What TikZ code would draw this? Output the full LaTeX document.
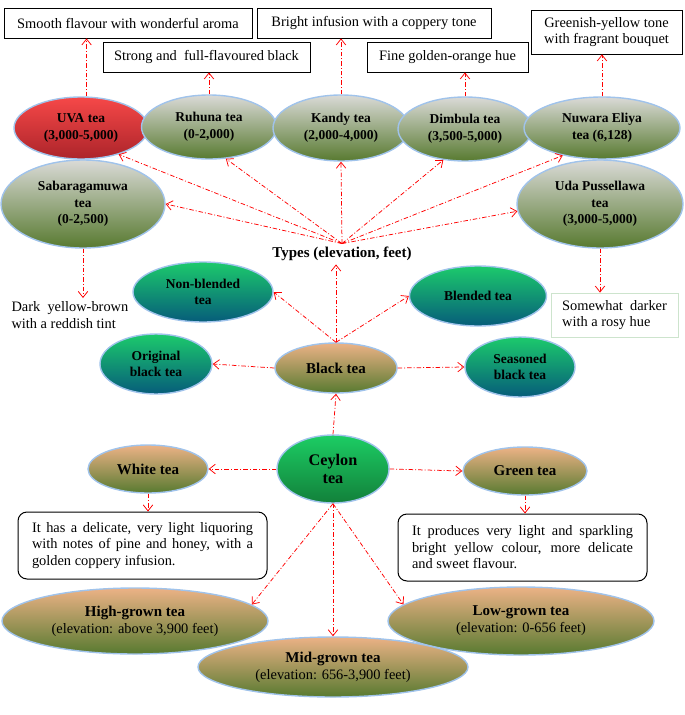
\documentclass[tikz,border=0pt]{standalone}
\usepackage{fontspec}
\setmainfont{Liberation Serif}
\usepackage{xcolor}
\usepackage{tikz}
\usetikzlibrary{arrows.meta, shapes.geometric}
\definecolor{ellborder}{RGB}{160,195,235}
\definecolor{greytop}{RGB}{218,218,215}
\definecolor{olivebot}{RGB}{88,122,48}
\definecolor{peachtop}{RGB}{236,178,134}
\definecolor{tealtop}{RGB}{28,202,108}
\definecolor{tealbot}{RGB}{6,92,122}
\definecolor{ceylontop}{RGB}{28,205,100}
\definecolor{ceylonbot}{RGB}{18,128,58}
\definecolor{uvatop}{RGB}{246,72,72}
\definecolor{uvabot}{RGB}{172,36,42}
\definecolor{rosyborder}{RGB}{205,228,205}
\newcommand{\fullline}[1]{\makebox[221pt][s]{#1}}

\begin{document}
\begin{tikzpicture}[
    x=1pt, y=-1pt,
    every node/.style={align=center},
    arrow/.style={draw=red, line width=0.75pt, dash pattern=on 4.5pt off 2pt on 1pt off 2pt, -{Straight Barb[length=6pt,width=9.5pt]}},
    regionell/.style={ellipse, draw=ellborder, line width=1.4pt, inner sep=0pt, top color=greytop, bottom color=olivebot, font=\fontsize{13.5}{16.5}\selectfont\bfseries},
    uvaell/.style={regionell, top color=uvatop, bottom color=uvabot},
    kindell/.style={regionell, top color=tealtop, bottom color=tealbot},
    teaell/.style={regionell, top color=peachtop, bottom color=olivebot, font=\fontsize{15}{17}\selectfont\bfseries},
    ceylonell/.style={regionell, top color=ceylontop, bottom color=ceylonbot, font=\fontsize{16.2}{18}\selectfont\bfseries},
    notebox/.style={rectangle, draw=black, line width=0.8pt, inner sep=0pt, font=\fontsize{14.4}{16.5}\selectfont},
    roundbox/.style={rectangle, draw=black, line width=1pt, rounded corners=9pt, inner sep=0pt, font=\fontsize{14.4}{16.5}\selectfont, align=left},
    plaintext/.style={font=\fontsize{14.4}{16.5}\selectfont, align=left}
]
\useasboundingbox (0,0) rectangle (685,715);

% Top descriptions
\node[notebox, minimum width=248pt, minimum height=30pt] (smooth) at (128,23) {Smooth flavour with wonderful aroma};
\node[notebox, minimum width=234pt, minimum height=30pt] (bright) at (374,23) {Bright infusion with a coppery tone};
\node[notebox, minimum width=207pt, minimum height=30pt] (strong) at (206.5,57) {Strong and\ \ full-flavoured black};
\node[notebox, minimum width=161pt, minimum height=30pt] (golden) at (447.5,57) {Fine golden-orange hue};
\node[notebox, minimum width=151pt, minimum height=44pt] (greenish) at (606.5,32) {Greenish-yellow tone\\with fragrant bouquet};

% Tea regions
\node[uvaell, minimum width=134pt, minimum height=62pt] (uva) at (81,128) {UVA tea\\(3,000-5,000)};
\node[regionell, minimum width=135pt, minimum height=64pt] (ruhuna) at (209,127) {Ruhuna tea\\(0-2,000)};
\node[regionell, minimum width=136pt, minimum height=66pt] (kandy) at (341,128) {Kandy tea\\(2,000-4,000)};
\node[regionell, minimum width=134pt, minimum height=64pt] (dimbula) at (465,129) {Dimbula tea\\(3,500-5,000)};
\node[regionell, minimum width=156pt, minimum height=62pt] (nuwara) at (602,128) {Nuwara Eliya\\tea (6,128)};
\node[regionell, minimum width=164pt, minimum height=88pt] (sabara) at (83,204) {Sabaragamuwa\\tea\\(0-2,500)};
\node[regionell, minimum width=166pt, minimum height=88pt] (uda) at (600,204) {Uda Pussellawa\\tea\\(3,000-5,000)};

\node[font=\fontsize{15}{17}\selectfont\bfseries] (types) at (342,254) {Types (elevation, feet)};

\node[plaintext, anchor=north west] (reddish) at (8,298) {Dark\ \ yellow-brown\\with a reddish tint};
\node[notebox, draw=rosyborder, minimum width=127pt, minimum height=44pt, align=left] (rosy) at (614.5,315) {Somewhat\ \ darker\\with a rosy hue};

% Black tea and its kinds
\node[kindell, minimum width=140pt, minimum height=60pt] (nonblend) at (203,292) {Non-blended\\tea};
\node[kindell, minimum width=137pt, minimum height=60pt] (blend) at (478,296) {Blended tea};
\node[kindell, minimum width=112pt, minimum height=60pt] (orig) at (156,364) {Original\\black tea};
\node[kindell, minimum width=110pt, minimum height=60pt] (season) at (520,367) {Seasoned\\black tea};
\node[teaell, minimum width=122pt, minimum height=50pt] (black) at (336,368) {Black tea};

% Ceylon tea
\node[ceylonell, minimum width=112pt, minimum height=68pt] (ceylon) at (333,469) {Ceylon\\tea};
\node[teaell, minimum width=120pt, minimum height=48pt] (white) at (148,469) {White tea};
\node[teaell, minimum width=124pt, minimum height=48pt] (green) at (525,471) {Green tea};

\node[roundbox, minimum width=249pt, minimum height=67pt] (wbox) at (142.5,545.5) {\fullline{It has a delicate, very light liquoring}\\\fullline{with notes of pine and honey, with a}\\golden coppery infusion.};
\node[roundbox, minimum width=249pt, minimum height=67pt] (gbox) at (522.5,547.5) {\fullline{It produces very light and sparkling}\\\fullline{bright yellow colour, more delicate}\\and sweet flavour.};

% Elevation groups
\node[teaell, minimum width=266pt, minimum height=66pt] (high) at (135,621) {High-grown tea\\{\mdseries\fontsize{14.4}{16.5}\selectfont (elevation: above 3,900 feet)}};
\node[teaell, minimum width=266pt, minimum height=68pt] (low) at (521,621) {Low-grown tea\\{\mdseries\fontsize{14.4}{16.5}\selectfont (elevation: 0-656 feet)}};
\node[teaell, minimum width=270pt, minimum height=60pt] (mid) at (333,667) {Mid-grown tea\\{\mdseries\fontsize{14.4}{16.5}\selectfont (elevation: 656-3,900 feet)}};

% Arrows to the descriptions
\draw[arrow] (uva.80) -- (uva.80 |- smooth.south);
\draw[arrow] (ruhuna.north) -- (ruhuna.north |- strong.south);
\draw[arrow] (kandy.north) -- (kandy.north |- bright.south);
\draw[arrow] (dimbula.north) -- (dimbula.north |- golden.south);
\draw[arrow] (nuwara.north) -- (nuwara.north |- greenish.south);
\draw[arrow] (sabara.south) -- (sabara.south |- reddish.north);
\draw[arrow] (uda.south) -- (uda.south |- rosy.north);

% Types fan
\draw[arrow] (types.north) -- (uva.-35);
\draw[arrow] (types.north) -- (ruhuna.-62);
\draw[arrow] (types.north) -- (kandy.south);
\draw[arrow] (types.north) -- (dimbula.-125);
\draw[arrow] (types.north) -- (nuwara.-145);
\draw[arrow] (types.north) -- (sabara.east);
\draw[arrow] (types.north) -- (uda.185);

% Black tea
\draw[arrow] (black.north) -- (black.north |- types.south);
\draw[arrow] (black.north) -- (nonblend.east);
\draw[arrow] (black.north) -- (blend.west);
\draw[arrow] (black.west) -- (orig.east);
\draw[arrow] (black.east) -- (season.west);

% Ceylon tea
\draw[arrow] (ceylon.north) -- (black.south);
\draw[arrow] (ceylon.west) -- (white.east);
\draw[arrow] (ceylon.east) -- (green.west);
\draw[arrow] (white.south) -- (white.south |- wbox.north);
\draw[arrow] (green.south) -- (green.south |- gbox.north);
\draw[arrow] (ceylon.south) -- (high.8);
\draw[arrow] (ceylon.south) -- (mid.north);
\draw[arrow] (ceylon.south) -- (low.172);

\end{tikzpicture}
\end{document}
